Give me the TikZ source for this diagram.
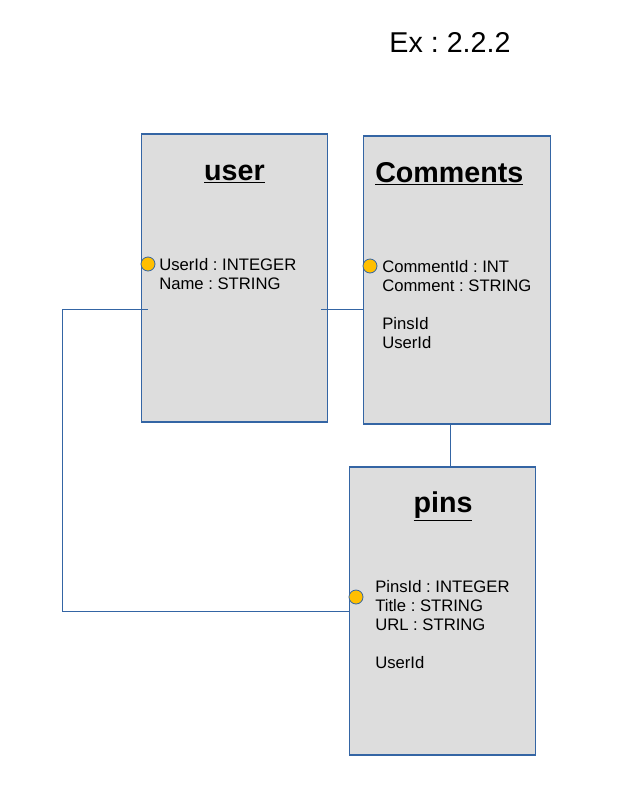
\documentclass[tikz,border=0pt]{standalone}
\usepackage{fontspec}
\setmainfont{Liberation Sans}
\frenchspacing
\definecolor{boxline}{HTML}{3465A4}
\definecolor{boxfill}{HTML}{DDDDDD}
\definecolor{keydot}{HTML}{FFBF00}
\tikzset{
  table/.style={draw=boxline, fill=boxfill, line width=0.8pt, minimum width=140pt, minimum height=216pt, inner sep=0pt},
  title/.style={font=\fontsize{21.5}{26}\selectfont\bfseries, inner sep=0pt},
  fields/.style={font=\fontsize{12.5}{14.25}\selectfont, align=left, anchor=north west, inner sep=0pt},
  key/.style={draw=boxline, fill=keydot, circle, line width=0.6pt, minimum size=10.5pt, inner sep=0pt},
  link/.style={draw=boxline, line width=0.6pt}
}
\begin{document}
\begin{tikzpicture}[x=0.75pt, y=-0.75pt]
\useasboundingbox (0,0) rectangle (631,804);
\node (ex) [font=\fontsize{21.5}{26}\selectfont, anchor=base, inner sep=0pt] at (450,52) {Ex : 2.2.2};
% tables
\node (user) [table] at (234.5,278) {};
\node (comments) [table] at (457,280) {};
\node (pins) [table] at (442.5,611) {};
\node (usertitle) [title, anchor=base] at (234.5,180) {\underline{user}};
\node (commentstitle) [title, anchor=base west] at (375,182) {\underline{Comments}};
\node (pinstitle) [title, anchor=base] at (443,512) {\underline{pins}};
\node (userfields) [fields] at (159,258) {UserId : INTEGER\\Name : STRING};
\node (commentsfields) [fields] at (382,260) {CommentId : INT\\Comment : STRING\\[14pt]PinsId\\UserId};
\node (pinsfields) [fields] at (375,580) {PinsId : INTEGER\\Title : STRING\\URL : STRING\\[14pt]UserId};
% links
\coordinate (ujoin) at (148,309);
\coordinate (cjoin) at (321,309);
\coordinate (cpjoin) at (450,424);
\draw[link] (cjoin) -- (comments.west |- cjoin);
\draw[link] (ujoin) -- ++(-86,0) |- (pins.west);
\draw[link] (cpjoin) -- (cpjoin |- pins.north);
% keys
\node (userkey) [key] at (148,264) {};
\node (commentskey) [key] at (370,266) {};
\node (pinskey) [key] at (356,597) {};
\end{tikzpicture}
\end{document}
